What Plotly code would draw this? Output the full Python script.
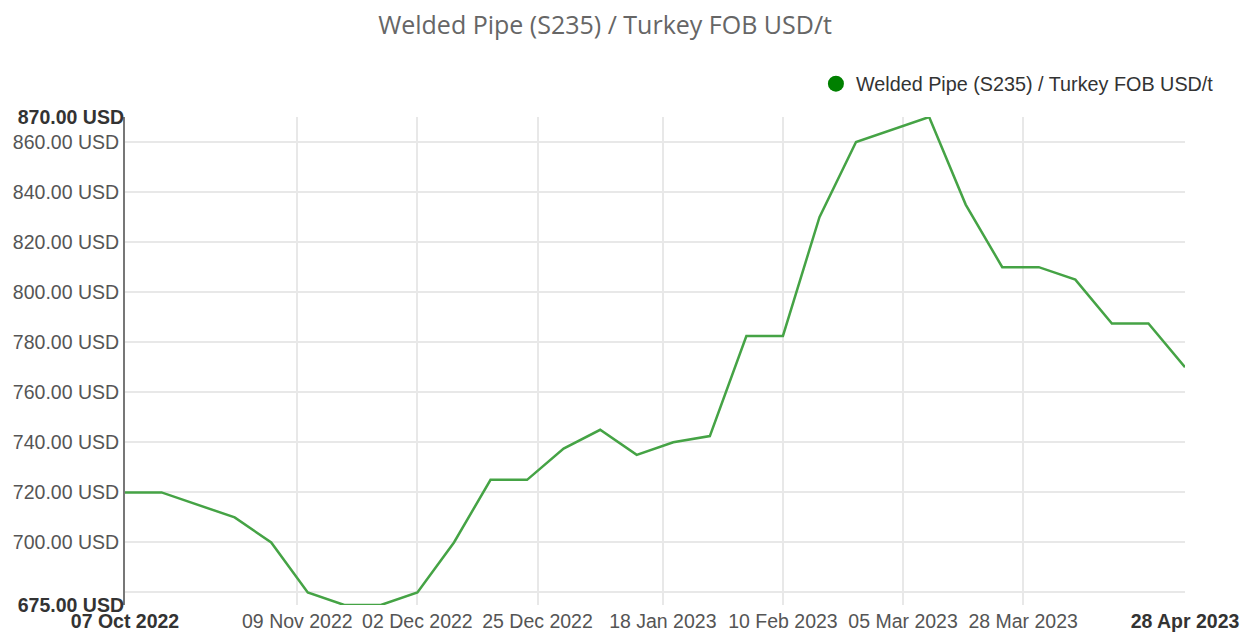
import plotly.graph_objects as go

dates = ["2022-10-07", "2022-10-14", "2022-10-28", "2022-11-04", "2022-11-11", "2022-11-18",
         "2022-11-25", "2022-12-02", "2022-12-09", "2022-12-16", "2022-12-23", "2022-12-30",
         "2023-01-06", "2023-01-13", "2023-01-20", "2023-01-27", "2023-02-03", "2023-02-10",
         "2023-02-17", "2023-02-24", "2023-03-10", "2023-03-17", "2023-03-24", "2023-03-31",
         "2023-04-07", "2023-04-14", "2023-04-21", "2023-04-28"]
prices = [720, 720, 710, 700, 680, 675,
          675, 680, 700, 725, 725, 737.5,
          745, 735, 740, 742.5, 782.5, 782.5,
          830, 860, 870, 835, 810, 810,
          805, 787.5, 787.5, 770]

series_name = "Welded Pipe (S235) / Turkey FOB USD/t"
x_tick_dates = ["2022-11-09", "2022-12-02", "2022-12-25", "2023-01-18",
                "2023-02-10", "2023-03-05", "2023-03-28"]
x_tick_text = ["09 Nov 2022", "02 Dec 2022", "25 Dec 2022", "18 Jan 2023",
               "10 Feb 2023", "05 Mar 2023", "28 Mar 2023"]
x_edge_dates = ["2022-10-07", "2023-04-28"]
x_edge_text = ["<b>07 Oct 2022</b>", "<b>28 Apr 2023</b>"]
y_tick_vals = [680, 700, 720, 740, 760, 780, 800, 820, 840, 860]
y_tick_text = ["", "700.00 USD", "720.00 USD", "740.00 USD", "760.00 USD", "780.00 USD",
               "800.00 USD", "820.00 USD", "840.00 USD", "860.00 USD"]
y_edge_vals = [675, 870]
y_edge_text = ["<b>675.00 USD</b>", "<b>870.00 USD</b>"]

y_range = [675, 870]
x_range = [dates[0], dates[-1]]

fig = go.Figure()
fig.add_trace(go.Scatter(x=dates, y=prices, mode="lines",
                         line=dict(color="#45a345", width=2.5),
                         showlegend=False, hoverinfo="x+y"))
# invisible copy to anchor overlay axes
fig.add_trace(go.Scatter(x=dates, y=prices, mode="lines", xaxis="x2", yaxis="y2",
                         line=dict(color="rgba(0,0,0,0)", width=0),
                         showlegend=False, hoverinfo="skip"))
# legend entry with circle symbol
fig.add_trace(go.Scatter(x=[None], y=[None], mode="markers", name=series_name,
                         marker=dict(color="#008000", size=20, symbol="circle")))

tick_font = dict(family="Liberation Sans, Arial, sans-serif", size=19.5, color="#555555")
edge_font = dict(family="Liberation Sans, Arial, sans-serif", size=19.5, color="#333333")

fig.update_layout(
    width=1257, height=635,
    paper_bgcolor="white", plot_bgcolor="white",
    margin=dict(l=117, r=80, t=109, b=38, autoexpand=False),
    title=dict(text=series_name, x=0.475, xref="container", xanchor="center",
               y=0.973, yref="container", yanchor="middle",
               font=dict(family="Open Sans, sans-serif", size=25, color="#666666")),
    legend=dict(x=1.032, xanchor="right", y=1.068, yanchor="middle",
                orientation="h", itemwidth=30, bgcolor="rgba(0,0,0,0)",
                font=dict(family="Liberation Sans, Arial, sans-serif", size=19.8, color="#333333")),
    xaxis=dict(type="date", range=x_range, tickvals=x_tick_dates, ticktext=x_tick_text,
               showgrid=True, gridcolor="#e8e8e8", gridwidth=1.5, showline=False,
               zeroline=False, ticks="", tickfont=tick_font, automargin=False,
               ticklabelstandoff=2),
    xaxis2=dict(type="date", range=x_range, overlaying="x", side="bottom",
                tickvals=x_edge_dates, ticktext=x_edge_text, showgrid=False,
                showline=False, zeroline=False, ticks="", tickfont=edge_font, automargin=False,
                ticklabelstandoff=2),
    yaxis=dict(range=y_range, tickvals=y_tick_vals, ticktext=y_tick_text,
               showgrid=True, gridcolor="#e8e8e8", gridwidth=1.5,
               showline=True, linecolor="#777777", linewidth=2,
               zeroline=False, ticks="", tickfont=tick_font, automargin=False),
    yaxis2=dict(range=y_range, overlaying="y", side="left",
                tickvals=y_edge_vals, ticktext=y_edge_text, showgrid=False,
                showline=False, zeroline=False, ticks="", tickfont=edge_font, automargin=False),
)

fig.write_html("out.html")
